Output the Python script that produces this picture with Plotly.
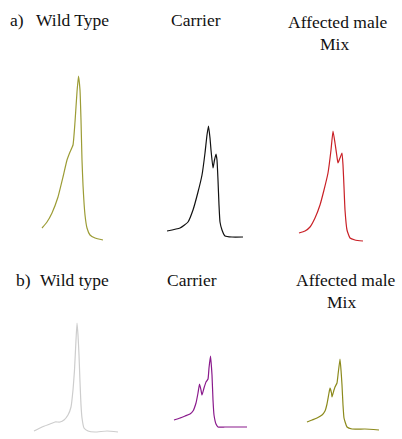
import plotly.graph_objects as go

# peak traces: position along each trace, intensity above baseline
wt_a_x = [2, 7, 12, 18, 23, 27, 30, 33, 35, 37, 38.5, 40, 41, 42, 43, 45, 47, 50, 55, 63]
wt_a_y = [14, 20, 29, 45, 65, 82, 90, 97, 120, 150, 166, 152, 122, 82, 57, 27, 14, 7, 4, 2]

car_a_x = [2, 15, 23, 28, 33, 37, 40, 42, 43.5, 45, 46, 48, 49.5, 51, 52, 53, 54, 55, 57, 60, 67, 78]
car_a_y = [11, 14, 20, 32, 50, 67, 89, 107, 116, 104, 92, 74, 82, 88, 82, 62, 37, 20, 12, 6, 5, 5]

aff_a_x = [4, 10, 15, 20, 25, 29, 33, 36, 38, 40, 42, 43, 45, 47, 48, 49, 50, 52, 55, 60, 68]
aff_a_y = [9, 11, 15, 24, 37, 52, 69, 92, 111, 99, 85, 79, 84, 89, 77, 55, 32, 12, 4, 2, 1]

wt_b_x = [4, 12, 20, 25, 30, 34, 38, 41, 43, 44.5, 46, 47, 48, 49, 50, 51, 52, 54, 58, 65, 77, 88]
wt_b_y = [3, 7, 10, 12, 12, 14, 19, 27, 44, 64, 94, 111, 99, 79, 52, 29, 16, 6, 3, 2, 3, 2]

car_b_x = [4, 10, 15, 20, 23, 26, 28, 29.5, 31, 32, 34, 36, 38, 39, 40.5, 42, 43, 44, 46, 48, 55, 77]
car_b_y = [14, 16, 18, 20, 23, 31, 41, 50, 44, 39, 46, 52, 55, 66, 78, 59, 34, 19, 10, 7, 7, 7]

aff_b_x = [7, 12, 17, 22, 25, 27, 29, 30, 31.5, 32, 34, 35, 37, 38, 40, 41, 42, 43, 44, 47, 52, 65, 79]
aff_b_y = [12, 14, 16, 19, 23, 30, 41, 46, 41, 37, 44, 47, 51, 59, 75, 64, 49, 29, 16, 7, 5, 5, 4]

W, H = 402, 439
# panel boxes in pixels: left edge, baseline, panel height
panels = [
    (wt_a_x, wt_a_y, '#9c9c35', 40, 242, 180),
    (car_a_x, car_a_y, '#111111', 165, 242, 180),
    (aff_a_x, aff_a_y, '#c92026', 295, 242, 180),
    (wt_b_x, wt_b_y, '#cdcdcd', 30, 434, 130),
    (car_b_x, car_b_y, '#8a1a8c', 170, 434, 130),
    (aff_b_x, aff_b_y, '#8c8a1c', 300, 434, 130),
]

fig = go.Figure()
layout = {}
for i, (xs, ys, col, x0, base, ph) in enumerate(panels):
    n = '' if i == 0 else str(i + 1)
    fig.add_trace(go.Scatter(x=xs, y=ys, mode='lines',
                             line=dict(color=col, width=1.2, shape='spline', smoothing=0.4),
                             xaxis='x' + n, yaxis='y' + n, hoverinfo='skip'))
    layout['xaxis' + n] = dict(domain=[x0 / W, (x0 + 100) / W], range=[0, 100], visible=False,
                               anchor='y' + n)
    layout['yaxis' + n] = dict(domain=[1 - base / H, 1 - (base - ph) / H], range=[0, ph],
                               visible=False, anchor='x' + n)

# labels: text, x px, y px, anchor
labels = [
    ('a)', 8, 20, 'left'), ('Wild Type', 34, 20, 'left'),
    ('Carrier', 196, 20, 'center'),
    ('Affected male', 338, 22, 'center'), ('Mix', 334, 44, 'center'),
    ('b)', 14, 280, 'left'), ('Wild type', 38, 280, 'left'),
    ('Carrier', 192, 280, 'center'),
    ('Affected male', 346, 280, 'center'), ('Mix', 341, 302, 'center'),
]
anns = [dict(text=t, x=px / W, y=1 - py / H, xref='paper', yref='paper', xanchor=a,
             yanchor='middle', showarrow=False,
             font=dict(family='Times New Roman, Liberation Serif, DejaVu Serif, serif',
                       size=17.5, color='#111111'))
        for t, px, py, a in labels]

fig.update_layout(width=W, height=H, margin=dict(l=0, r=0, t=0, b=0), showlegend=False,
                  paper_bgcolor='white', plot_bgcolor='white', annotations=anns, **layout)
# drop the browser's default 8px body margin so the figure sits at the page corner
fig.write_html("out.html", config={'displayModeBar': False},
               post_script="document.body.style.margin='0px';")
